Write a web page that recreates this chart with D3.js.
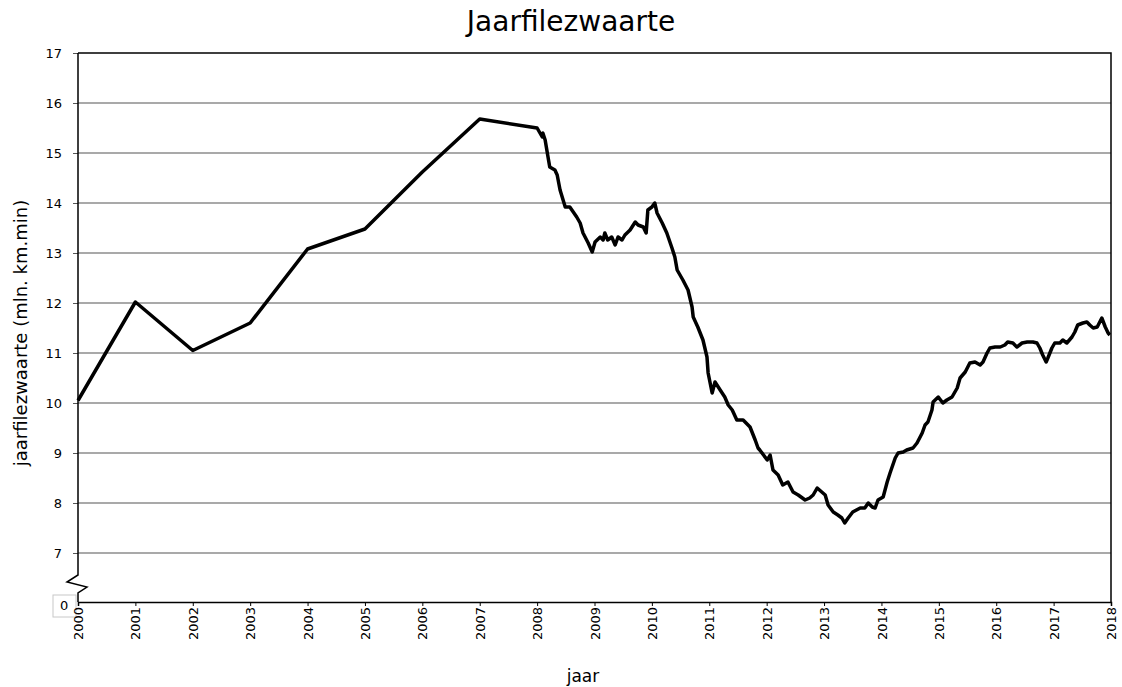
<!DOCTYPE html>
<html>
<head>
<meta charset="utf-8">
<script src="https://cdn.jsdelivr.net/npm/d3@7"></script>
<style>
  body { margin: 0; background: #fff; }
  text { font-family: "DejaVu Sans", Verdana, sans-serif; }
</style>
</head>
<body>
<div id="chart"></div>
<script>

// yearly values up to 2008, afterwards a moving yearly sum
var years = [2000, 2001, 2002, 2003, 2004, 2005, 2006, 2007, 2008,
    2008.02, 2008.09, 2008.10, 2008.14, 2008.19, 2008.22, 2008.31, 2008.35, 2008.40, 2008.49,
    2008.57, 2008.69, 2008.75, 2008.80, 2008.89, 2008.96, 2009.01, 2009.10, 2009.15, 2009.18,
    2009.23, 2009.30, 2009.36, 2009.41, 2009.48, 2009.53, 2009.62, 2009.71, 2009.76, 2009.85,
    2009.90, 2009.93, 2010.00, 2010.05, 2010.09, 2010.18, 2010.26, 2010.35, 2010.40, 2010.44,
    2010.54, 2010.63, 2010.70, 2010.72, 2010.80, 2010.89, 2010.96, 2010.98, 2011.05, 2011.10,
    2011.19, 2011.27, 2011.33, 2011.40, 2011.48, 2011.59, 2011.71, 2011.80, 2011.85, 2011.88,
    2012.01, 2012.06, 2012.11, 2012.20, 2012.28, 2012.37, 2012.46, 2012.55, 2012.67, 2012.75,
    2012.81, 2012.88, 2012.96, 2013.02, 2013.07, 2013.16, 2013.24, 2013.31, 2013.36, 2013.42,
    2013.50, 2013.63, 2013.71, 2013.77, 2013.84, 2013.89, 2013.94, 2014.03, 2014.10, 2014.15,
    2014.24, 2014.29, 2014.38, 2014.44, 2014.55, 2014.62, 2014.71, 2014.76, 2014.81, 2014.88,
    2014.90, 2014.99, 2015.07, 2015.14, 2015.23, 2015.32, 2015.37, 2015.46, 2015.54, 2015.63,
    2015.72, 2015.77, 2015.84, 2015.89, 2015.98, 2016.07, 2016.15, 2016.20, 2016.29, 2016.36,
    2016.45, 2016.54, 2016.64, 2016.71, 2016.76, 2016.81, 2016.87, 2016.90, 2016.97, 2017.02,
    2017.11, 2017.16, 2017.23, 2017.32, 2017.37, 2017.42, 2017.51, 2017.58, 2017.63, 2017.69,
    2017.76, 2017.84, 2017.90, 2017.95, 2017.98];

var values = [10.05, 12.02, 11.05, 11.60, 13.08, 13.48, 14.62, 15.68, 15.50,
    15.46, 15.32, 15.40, 15.26, 14.92, 14.72, 14.66, 14.56, 14.26, 13.92,
    13.92, 13.72, 13.60, 13.40, 13.20, 13.02, 13.22, 13.32, 13.26, 13.40,
    13.26, 13.32, 13.16, 13.32, 13.26, 13.36, 13.46, 13.62, 13.56, 13.52,
    13.40, 13.86, 13.92, 14.00, 13.80, 13.60, 13.40, 13.10, 12.92, 12.66,
    12.46, 12.26, 11.92, 11.72, 11.52, 11.26, 10.92, 10.60, 10.20, 10.42,
    10.26, 10.12, 9.96, 9.86, 9.66, 9.66, 9.52, 9.26, 9.10, 9.06,
    8.86, 8.96, 8.66, 8.56, 8.36, 8.42, 8.22, 8.16, 8.06, 8.10,
    8.16, 8.30, 8.22, 8.16, 7.96, 7.82, 7.76, 7.70, 7.60, 7.70,
    7.82, 7.90, 7.90, 8.00, 7.92, 7.90, 8.06, 8.12, 8.42, 8.60,
    8.90, 9.00, 9.02, 9.06, 9.10, 9.20, 9.40, 9.56, 9.62, 9.86,
    10.02, 10.12, 10.00, 10.06, 10.12, 10.30, 10.50, 10.62, 10.80, 10.82,
    10.76, 10.82, 11.00, 11.10, 11.12, 11.12, 11.16, 11.22, 11.20, 11.12,
    11.20, 11.22, 11.22, 11.20, 11.10, 10.96, 10.82, 10.90, 11.10, 11.20,
    11.20, 11.26, 11.20, 11.32, 11.42, 11.56, 11.60, 11.62, 11.56, 11.50,
    11.52, 11.70, 11.52, 11.40, 11.36];

var yTicks = [7, 8, 9, 10, 11, 12, 13, 14, 15, 16, 17];
var xTicks = d3.range(2000, 2019);

var width = 1122, height = 687;
var margin = {top: 53, right: 11, bottom: 85, left: 78};

var svg = d3.select("#chart").append("svg")
    .attr("width", width)
    .attr("height", height);

var plotW = width - margin.left - margin.right,
    plotH = height - margin.top - margin.bottom;

var x = d3.scaleLinear()
    .domain([2000, 2018])
    .range([0, plotW]);

// broken axis: 0..7 squeezed into the bottom strip
var y = d3.scaleLinear()
    .domain([0, 7, 17])
    .range([plotH, plotH - 49, 0]);

var g = svg.append("g")
    .attr("transform", "translate(" + margin.left + "," + margin.top + ")");

// grid lines
g.selectAll(".grid")
    .data(yTicks.filter(function (d) { return d < 17; }))
    .enter().append("line")
    .attr("class", "grid")
    .attr("x1", 0)
    .attr("x2", plotW)
    .attr("y1", function (d) { return y(d); })
    .attr("y2", function (d) { return y(d); })
    .attr("stroke", "#8c8c8c")
    .attr("stroke-width", 1.5);

// frame: top and right
g.append("path")
    .attr("d", "M0," + y(17) + "H" + plotW + "V" + plotH)
    .attr("fill", "none")
    .attr("stroke", "#000")
    .attr("stroke-width", 1.5);

// y axis
var yAxis = g.append("g")
    .call(d3.axisLeft(y).tickValues(yTicks).tickSize(5).tickPadding(11));
yAxis.select(".domain").remove();
yAxis.selectAll("text").style("font-size", "13px").attr("fill", "#000");
yAxis.selectAll("line").attr("stroke", "#555");

// y axis line with break
var brk = y(7) + 22;
g.append("path")
    .attr("d", "M0," + y(17) + "V" + brk + "L-11," + (brk + 7) + "L9," + (brk + 12) + "L0," + (brk + 18) + "V" + plotH)
    .attr("fill", "none")
    .attr("stroke", "#000")
    .attr("stroke-width", 1.5);

// zero label in a little box
g.append("rect")
    .attr("x", -25)
    .attr("y", y(0) - 7)
    .attr("width", 23)
    .attr("height", 22)
    .attr("fill", "#fff")
    .attr("stroke", "#c8c8c8");
g.append("text")
    .attr("x", -18)
    .attr("y", y(0) + 8)
    .style("font-size", "13px")
    .text("0");

// x axis
var xAxis = g.append("g")
    .attr("transform", "translate(0," + plotH + ")")
    .call(d3.axisBottom(x).tickValues(xTicks).tickFormat(d3.format("d")).tickSize(4));
xAxis.select(".domain").attr("stroke-width", 1.5);
xAxis.selectAll("text")
    .style("font-size", "13px")
    .attr("fill", "#000")
    .attr("text-anchor", "end")
    .attr("transform", "rotate(-90)")
    .attr("x", -5)
    .attr("y", 0)
    .attr("dy", "0.35em");

// the line
var line = d3.line()
    .x(function (d, i) { return x(years[i]); })
    .y(function (d) { return y(d); });

g.append("path")
    .datum(values)
    .attr("fill", "none")
    .attr("stroke", "#000")
    .attr("stroke-width", 3.5)
    .attr("stroke-linejoin", "round")
    .attr("d", line);

// titles
svg.append("text")
    .attr("x", 571)
    .attr("y", 31)
    .attr("text-anchor", "middle")
    .style("font-size", "28px")
    .text("Jaarfilezwaarte");

svg.append("text")
    .attr("x", 583)
    .attr("y", 682)
    .attr("text-anchor", "middle")
    .style("font-size", "17px")
    .text("jaar");

svg.append("text")
    .attr("transform", "translate(27,333) rotate(-90)")
    .attr("text-anchor", "middle")
    .style("font-size", "18px")
    .text("jaarfilezwaarte (mln. km.min)");

</script>
</body>
</html>
